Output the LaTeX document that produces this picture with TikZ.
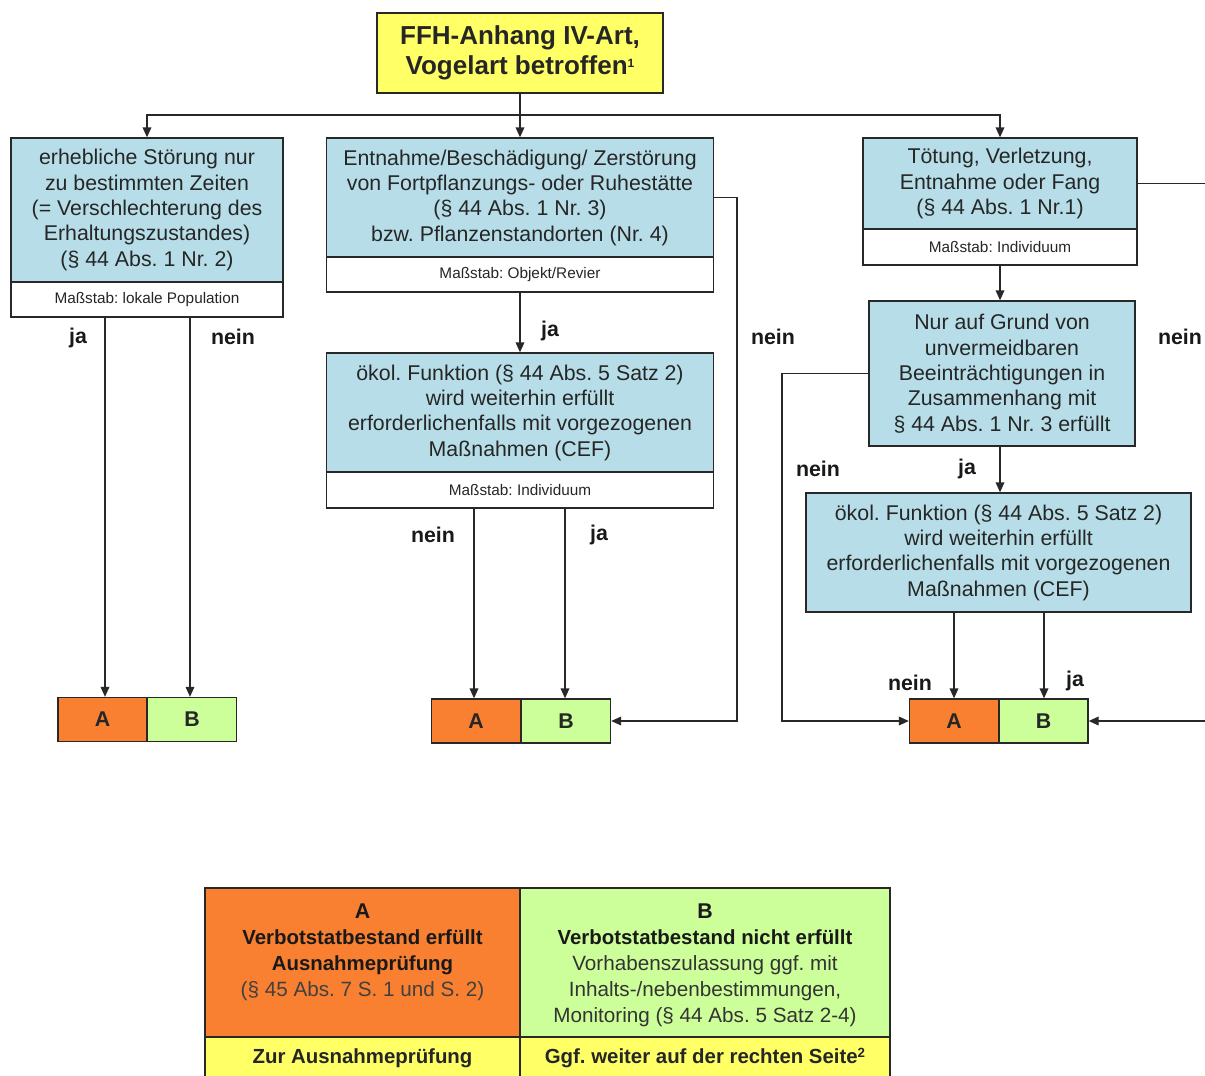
\documentclass[tikz,border=0pt]{standalone}
\usepackage{fontspec}
\setmainfont{Liberation Sans}
\usetikzlibrary{arrows.meta}
\newdimen\pxu \pxu=0.75pt
\frenchspacing
\definecolor{boxblue}{RGB}{183,222,232}
\definecolor{topyellow}{RGB}{255,255,102}
\definecolor{aorange}{RGB}{248,128,48}
\definecolor{bgreen}{RGB}{204,255,153}
\definecolor{linegray}{RGB}{40,40,40}
\begin{document}
\frenchspacing
\begin{tikzpicture}[x=0.75pt,y=-0.75pt,
  box/.style={draw=linegray, line width=1pt, inner sep=0pt, align=center, text=black!85},
  bluebox/.style={box, fill=boxblue, font=\fontsize{16}{19}\selectfont},
  notebox/.style={box, fill=white, font=\fontsize{11.5}{13}\selectfont},
  lbl/.style={font=\fontsize{16}{19}\selectfont\bfseries, inner sep=0pt, text=black!90},
  ln/.style={draw=linegray, line width=1pt},
  arr/.style={ln, -{Triangle[length=7.5pt,width=6.5pt]}},
  abox/.style={box, fill=aorange, font=\fontsize{16}{19}\selectfont\bfseries, minimum width=89\pxu, minimum height=44\pxu},
  bbox/.style={box, fill=bgreen, font=\fontsize{16}{19}\selectfont\bfseries, minimum width=89\pxu, minimum height=44\pxu},
  legtext/.style={inner sep=0pt, align=center, text=black!90, font=\fontsize{15.5}{19.5}\selectfont},
]
\clip (0,0) rectangle (1205,1075);
\fill[white] (0,0) rectangle (1205,1075);

% top
\node[box, fill=topyellow, minimum width=286\pxu, minimum height=80\pxu,
      font=\fontsize{19.5}{22.5}\selectfont\bfseries] (top) at (520,53)
  {FFH-Anhang IV-Art,\\Vogelart betroffen\raisebox{0.55ex}{\fontsize{9}{9}\selectfont 1}};

% left column
\node[bluebox, minimum width=272\pxu, minimum height=144\pxu] (lblue) at (147,210)
  {erhebliche Störung nur\\zu bestimmten Zeiten\\(= Verschlechterung des\\Erhaltungszustandes)\\(§ 44 Abs. 1 Nr. 2)};
\node[notebox, minimum width=272\pxu, minimum height=35\pxu] (lnote) at (147,299.5)
  {Maßstab: lokale Population};

% middle column
\node[bluebox, minimum width=387\pxu, minimum height=119\pxu] (mblue) at (520,197.5)
  {Entnahme/Beschädigung/ Zerstörung\\von Fortpflanzungs- oder Ruhestätte\\(§ 44 Abs. 1 Nr. 3)\\bzw. Pflanzenstandorten (Nr. 4)};
\node[notebox, minimum width=387\pxu, minimum height=35\pxu] (mnote) at (520,274.5)
  {Maßstab: Objekt/Revier};
\node[bluebox, minimum width=387\pxu, minimum height=119\pxu] (mokol) at (520,412.5)
  {ökol. Funktion (§ 44 Abs. 5 Satz 2)\\wird weiterhin erfüllt\\erforderlichenfalls mit vorgezogenen\\Maßnahmen (CEF)};
\node[notebox, minimum width=387\pxu, minimum height=36\pxu] (mokolnote) at (520,490)
  {Maßstab: Individuum};

% right column
\node[bluebox, minimum width=274\pxu, minimum height=91\pxu] (rblue) at (1000,183.5)
  {Tötung, Verletzung,\\Entnahme oder Fang\\(§ 44 Abs. 1 Nr.1)};
\node[notebox, minimum width=274\pxu, minimum height=36\pxu] (rnote) at (1000,247)
  {Maßstab: Individuum};
\node[bluebox, minimum width=266\pxu, minimum height=145\pxu] (nur) at (1002,373.5)
  {Nur auf Grund von\\unvermeidbaren\\Beeinträchtigungen in\\Zusammenhang mit\\§ 44 Abs. 1 Nr. 3 erfüllt};
\node[bluebox, minimum width=385\pxu, minimum height=119\pxu] (rokol) at (998.5,552.5)
  {ökol. Funktion (§ 44 Abs. 5 Satz 2)\\wird weiterhin erfüllt\\erforderlichenfalls mit vorgezogenen\\Maßnahmen (CEF)};

% A/B boxes
\node[abox] (A1) at (102.5,719.5) {A};
\node[bbox] (B1) at (192,719.5) {B};
\node[abox] (A2) at (476,721) {A};
\node[bbox] (B2) at (566,721) {B};
\node[abox] (A3) at (954,721) {A};
\node[bbox] (B3) at (1043.5,721) {B};

% helper coordinates
\coordinate (bus) at (520,115);
\coordinate (xl1) at (105,0);
\coordinate (xl2) at (190,0);
\coordinate (xm1) at (474,0);
\coordinate (xm2) at (565,0);
\coordinate (xmr) at (737,0);
\coordinate (xr1) at (954,0);
\coordinate (xr2) at (1044,0);
\coordinate (xnl) at (782,0);
\coordinate (xrr) at (1215,0);

% connectors
\draw[ln] (top.south) -- (bus);
\draw[arr] (bus) -| (lblue.north);
\draw[arr] (bus) -| (rblue.north);
\draw[arr] (bus) -- (mblue.north);

\draw[arr] (lnote.south -| xl1) -- (A1.north -| xl1);
\draw[arr] (lnote.south -| xl2) -- (B1.north -| xl2);

\draw[arr] (mnote.south) -- (mokol.north);
\draw[arr] (mokolnote.south -| xm1) -- (A2.north -| xm1);
\draw[arr] (mokolnote.south -| xm2) -- (B2.north -| xm2);
\draw[arr] (mblue.east) -| (xmr |- B2.east) -- (B2.east);

\draw[arr] (rnote.south) -- (rnote.south |- nur.north);
\draw[arr] (nur.south -| rnote.south) -- (rokol.north -| rnote.south);
\draw[arr] (nur.west) -| (xnl |- A3.west) -- (A3.west);
\draw[arr] (rokol.south -| xr1) -- (A3.north -| xr1);
\draw[arr] (rokol.south -| xr2) -- (B3.north -| xr2);
\draw[arr] (rblue.east) -| (xrr |- B3.east) -- (B3.east);

% labels
\node[lbl] (l1) at (78,338) {ja};
\node[lbl] (l2) at (233,337) {nein};
\node[lbl] (l3) at (550,331) {ja};
\node[lbl] (l4) at (433,535) {nein};
\node[lbl] (l5) at (599,535) {ja};
\node[lbl] (l6) at (773,337) {nein};
\node[lbl] (l7) at (1180,337) {nein};
\node[lbl] (l8) at (818,469) {nein};
\node[lbl] (l9) at (967,469) {ja};
\node[lbl] (l10) at (910,683) {nein};
\node[lbl] (l11) at (1075,681) {ja};

% legend
\node[box, fill=aorange, minimum width=315\pxu, minimum height=149\pxu] (LA) at (362.5,962.5) {};
\node[box, fill=bgreen, minimum width=370\pxu, minimum height=149\pxu] (LB) at (705,962.5) {};
\node[box, fill=topyellow, minimum width=315\pxu, minimum height=42\pxu,
      font=\fontsize{15.3}{18}\selectfont\bfseries] (LA2) at (362.5,1058) {Zur Ausnahmeprüfung};
\node[box, fill=topyellow, minimum width=370\pxu, minimum height=42\pxu,
      font=\fontsize{15.3}{18}\selectfont\bfseries] (LB2) at (705,1058)
  {Ggf. weiter auf der rechten Seite\raisebox{0.6ex}{\fontsize{10}{10}\selectfont 2}};
\node[legtext] (LAt) at (362.5,952)
  {{\fontsize{16}{19.5}\selectfont\bfseries A}\\
   {\fontsize{15.3}{19.5}\selectfont\bfseries Verbotstatbestand erfüllt}\\
   {\fontsize{15.3}{19.5}\selectfont\bfseries Ausnahmeprüfung}\\
   {\color{black!75}(§ 45 Abs. 7 S. 1 und S. 2)}};
\node[legtext] (LBt) at (705,965)
  {{\fontsize{16}{19.5}\selectfont\bfseries B}\\
   {\fontsize{15.3}{19.5}\selectfont\bfseries Verbotstatbestand nicht erfüllt}\\
   {\color{black!80}Vorhabenszulassung ggf. mit}\\
   {\color{black!80}Inhalts-/nebenbestimmungen,}\\
   {\color{black!80}Monitoring (§ 44 Abs. 5 Satz 2-4)}};
\end{tikzpicture}
\end{document}
